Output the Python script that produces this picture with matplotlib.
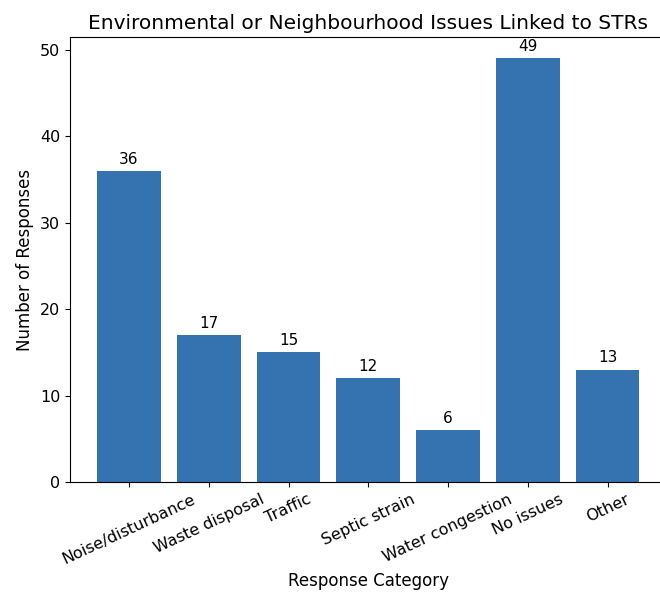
import matplotlib
matplotlib.use("Agg")
import matplotlib.pyplot as plt

categories = ["Noise/disturbance", "Waste disposal", "Traffic", "Septic strain",
              "Water congestion", "No issues", "Other"]
counts = [36, 17, 15, 12, 6, 49, 13]

fig, ax = plt.subplots(figsize=(6.6, 6.01), dpi=100)
# the reference is clipped on the right, so the axes runs past the edge
fig.subplots_adjust(left=0.106, right=1.01, top=0.938, bottom=0.198)

bars = ax.bar(categories, counts, color="#3572b0")
ax.bar_label(bars, padding=3, fontsize=11)

ax.set_title("Environmental or Neighbourhood Issues Linked to STRs", fontsize=14.5)
ax.set_xlabel("Response Category", fontsize=12)
ax.set_ylabel("Number of Responses", fontsize=12)
ax.tick_params(labelsize=11.5)
plt.setp(ax.get_xticklabels(), rotation=25)

fig.savefig("out.png", dpi=100)
